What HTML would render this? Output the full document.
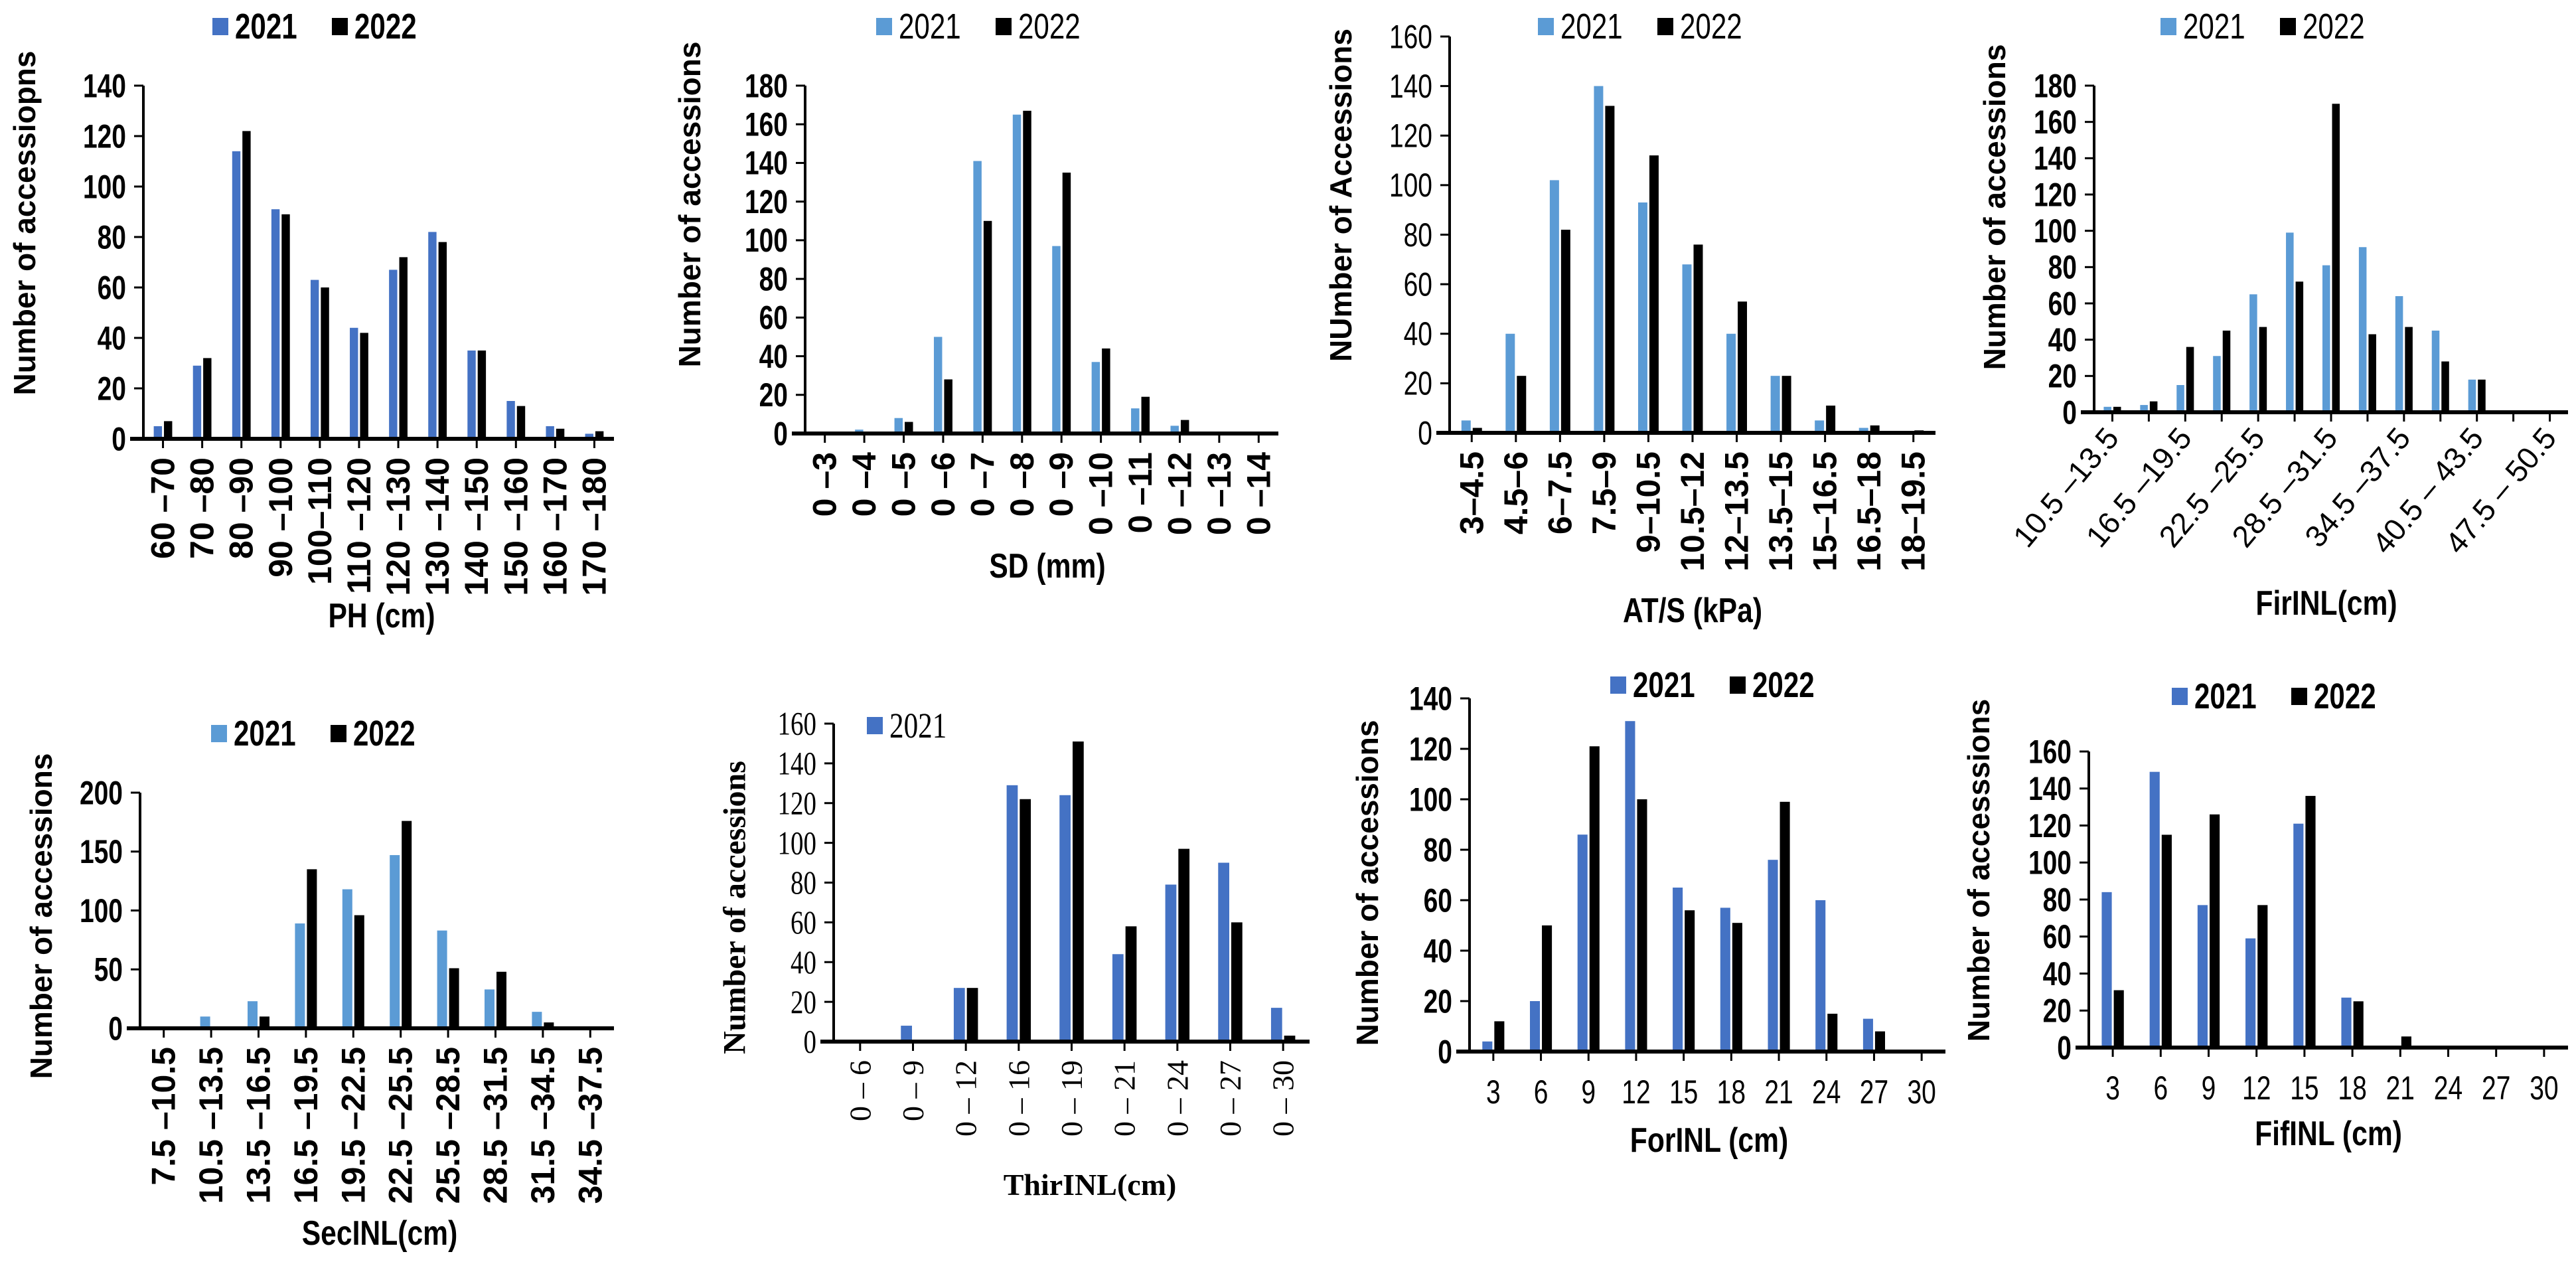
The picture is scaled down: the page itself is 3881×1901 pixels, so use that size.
<!DOCTYPE html>
<html><head><meta charset="utf-8"><style>
html,body{margin:0;padding:0;background:#fff;}
svg{display:block;}
</style></head><body>
<svg id="fig" xmlns="http://www.w3.org/2000/svg" width="3881" height="1901" viewBox="0 0 3881 1901"></svg>
<script>
// ---- data ----
const phCats=["60 –70","70 –80","80 –90","90 –100","100–110","110 –120","120 –130","130 –140","140 –150","150 –160","160 –170","170 –180"];
const ph2021=[5,29,114,91,63,44,67,82,35,15,5,2];
const ph2022=[7,32,122,89,60,42,72,78,35,13,4,3];
const phTicks=[0,20,40,60,80,100,120,140];

const sdCats=["0 –3","0 –4","0 –5","0 –6","0 –7","0 –8","0 –9","0 –10","0 –11","0 –12","0 –13","0 –14"];
const sd2021=[0,2,8,50,141,165,97,37,13,4,0,0];
const sd2022=[0,0,6,28,110,167,135,44,19,7,0,0];
const sdTicks=[0,20,40,60,80,100,120,140,160,180];

const atCats=["3–4.5","4.5–6","6–7.5","7.5–9","9–10.5","10.5–12","12–13.5","13.5–15","15–16.5","16.5–18","18–19.5"];
const at2021=[5,40,102,140,93,68,40,23,5,2,0];
const at2022=[2,23,82,132,112,76,53,23,11,3,1];
const atTicks=[0,20,40,60,80,100,120,140,160];

const firCats=["10.5 –13.5","","16.5 –19.5","","22.5 –25.5","","28.5 –31.5","","34.5 –37.5","","40.5 – 43.5","","47.5 – 50.5"];
const fir2021=[3,4,15,31,65,99,81,91,64,45,18,0,0];
const fir2022=[3,6,36,45,47,72,170,43,47,28,18,0,0];
const firTicks=[0,20,40,60,80,100,120,140,160,180];

const secCats=["7.5 –10.5","10.5 –13.5","13.5 –16.5","16.5 –19.5","19.5 –22.5","22.5 –25.5","25.5 –28.5","28.5 –31.5","31.5 –34.5","34.5 –37.5"];
const sec2021=[0,10,23,89,118,147,83,33,14,0];
const sec2022=[0,0,10,135,96,176,51,48,5,0];
const secTicks=[0,50,100,150,200];

const thirCats=["0 – 6","0 – 9","0 – 12","0 – 16","0 – 19","0 – 21","0 – 24","0 – 27","0 – 30"];
const thir2021=[0,8,27,129,124,44,79,90,17];
const thir2022=[0,0,27,122,151,58,97,60,3];
const thirTicks=[0,20,40,60,80,100,120,140,160];

const forCats=["3","6","9","12","15","18","21","24","27","30"];
const for2021=[4,20,86,131,65,57,76,60,13,0];
const for2022=[12,50,121,100,56,51,99,15,8,0];
const forTicks=[0,20,40,60,80,100,120,140];

const fifCats=["3","6","9","12","15","18","21","24","27","30"];
const fif2021=[84,149,77,59,121,27,1,0,0,0];
const fif2022=[31,115,126,77,136,25,6,1,0,1];
const fifTicks=[0,20,40,60,80,100,120,140,160];

// ---- drawing ----
const NS="http://www.w3.org/2000/svg";
const svg=document.getElementById('fig');
const SANS='"Liberation Sans", Arial, sans-serif';
const SERIF='"Liberation Serif", "Times New Roman", serif';
function mk(tag,attrs,parent){const e=document.createElementNS(NS,tag);for(const k in attrs)e.setAttribute(k,attrs[k]);(parent||svg).appendChild(e);return e;}
function txt(parent,str,x,y,o){
  const e=mk('text',{x:0,y:0,'font-family':o.serif?SERIF:SANS,'font-size':o.size,'font-weight':o.bold?'bold':'normal','text-anchor':o.anchor||'middle',fill:'#000'},parent);
  if(o.mid)e.setAttribute('dominant-baseline','central');
  e.setAttribute('transform',`translate(${x},${y}) rotate(${o.rot||0}) scale(${o.sx||1},1)`);
  e.textContent=str;return e;}

function panel(c,cats,a,b,ticks){
  const g=mk('g',{});
  
  
  const n=cats.length,w=(c.x1-c.x0)/n,max=ticks[ticks.length-1];
  const ys=v=>c.yb-(v/max)*(c.yb-c.yt);
  const bw=w*0.21;
  for(let i=0;i<n;i++){
    const cx=c.x0+w*(i+0.5);
    const r1=mk('rect',{x:cx-bw-1.5,y:ys(a[i]),width:bw,height:c.yb-ys(a[i]),fill:c.color},g);
    
    
    const r2=mk('rect',{x:cx+1.5,y:ys(b[i]),width:bw,height:c.yb-ys(b[i]),fill:'#000'},g);
    
    
    const tk=mk('line',{x1:cx,x2:cx,y1:c.yb,y2:c.yb+14,stroke:'#000','stroke-width':3},g);
    
    
    if(cats[i]!==''){
      let t;
      if(c.xl==='h') t=txt(g,cats[i],cx,c.yb+78,{size:50,bold:c.xb,sx:0.78});
      else if(c.xl==='d') t=txt(g,cats[i],cx+12,c.yb+40,{size:46,bold:false,anchor:'end',rot:-50});
      else t=txt(g,cats[i],cx,c.yb+28,{size:c.xs||50,bold:c.xb,anchor:'end',rot:-90,mid:true,serif:c.serif});
      
      
    }
  }
  const ya=mk('line',{x1:c.x0,x2:c.x0,y1:c.yt,y2:c.yb,stroke:'#000','stroke-width':4},g);
  
  
  const xa=mk('line',{x1:c.x0-20,x2:c.x1,y1:c.yb,y2:c.yb,stroke:'#000','stroke-width':6},g);
  
  
  ticks.forEach(v=>{
    const y=ys(v);
    const tl=mk('line',{x1:c.x0-14,x2:c.x0,y1:y,y2:y,stroke:'#000','stroke-width':3},g);
    
    
    const t=txt(g,String(v),c.x0-26,y,{size:50,bold:c.tb,anchor:'end',mid:true,sx:0.78,serif:c.serif});
    
    
  });
  const yt=txt(g,c.ytitle,c.ytx,c.yty,{size:c.serif?48:46,bold:true,rot:-90,mid:true,serif:c.serif});
  
  
  const xt=txt(g,c.xtitle,c.xtx,c.xty,{size:c.serif?46:52,bold:true,sx:c.serif?1:0.82,serif:c.serif});
  
  
  const lg=mk('g',{},g);
  
  
  const s1=mk('rect',{x:c.lx,y:c.ly-13,width:24,height:26,fill:c.color},lg);
  
  
  const l1=txt(lg,'2021',c.lx+34,c.ly,{size:54,bold:c.lb,anchor:'start',mid:true,sx:c.serif?0.8:0.78,serif:c.serif});
  
  
  if(!c.single){
    const s2=mk('rect',{x:c.lx+180,y:c.ly-13,width:24,height:26,fill:'#000'},lg);
    
    
    const l2=txt(lg,'2022',c.lx+214,c.ly,{size:54,bold:c.lb,anchor:'start',mid:true,sx:0.78});
    
    
  }
}
const B1='#4472C4',B2='#5B9BD5';
panel({name:'chart-ph',x0:216,x1:925,yt:129,yb:661,color:B1,xb:true,tb:true,lb:true,ytitle:'Number of accessiopns',ytx:37,yty:336,xtitle:'PH (cm)',xtx:575,xty:945,lx:320,ly:40},phCats,ph2021,ph2022,phTicks);
panel({name:'chart-sd',x0:1213,x1:1926,yt:129,yb:653,color:B2,xb:true,tb:true,lb:false,ytitle:'Number of accessions',ytx:1039,yty:308,xtitle:'SD (mm)',xtx:1578,xty:870,lx:1320,ly:40},sdCats,sd2021,sd2022,sdTicks);
panel({name:'chart-ats',x0:2184,x1:2916,yt:55,yb:652,color:B2,xb:true,tb:false,lb:false,ytitle:'NUmber of Accessions',ytx:2020,yty:294,xtitle:'AT/S (kPa)',xtx:2550,xty:937,lx:2317,ly:40},atCats,at2021,at2022,atTicks);
panel({name:'chart-firinl',x0:3155,x1:3869,yt:129,yb:621,color:B2,xl:'d',tb:true,lb:false,ytitle:'Number of accessions',ytx:3005,yty:312,xtitle:'FirINL(cm)',xtx:3505,xty:926,lx:3255,ly:40},firCats,fir2021,fir2022,firTicks);
panel({name:'chart-secinl',x0:211,x1:925,yt:1194,yb:1549,color:B2,xb:true,tb:true,lb:true,ytitle:'Number of accessions',ytx:62,yty:1380,xtitle:'SecINL(cm)',xtx:572,xty:1875,lx:318,ly:1105},secCats,sec2021,sec2022,secTicks);
panel({name:'chart-thirinl',x0:1256,x1:1973,yt:1090,yb:1569,color:B1,xb:false,tb:false,lb:false,serif:true,single:true,xs:46,ytitle:'Number of accessions',ytx:1107,yty:1367,xtitle:'ThirINL(cm)',xtx:1642,xty:1800,lx:1306,ly:1093},thirCats,thir2021,thir2022,thirTicks);
panel({name:'chart-forinl',x0:2214,x1:2931,yt:1052,yb:1584,color:B1,xl:'h',xb:false,tb:true,lb:true,ytitle:'Number of accessions',ytx:2060,yty:1330,xtitle:'ForINL (cm)',xtx:2575,xty:1735,lx:2426,ly:1032},forCats,for2021,for2022,forTicks);
panel({name:'chart-fifinl',x0:3147,x1:3869,yt:1132,yb:1578,color:B1,xl:'h',xb:false,tb:true,lb:true,ytitle:'Number of accesssions',ytx:2981,yty:1311,xtitle:'FifINL (cm)',xtx:3508,xty:1725,lx:3272,ly:1049},fifCats,fif2021,fif2022,fifTicks);
</script>
</body></html>
